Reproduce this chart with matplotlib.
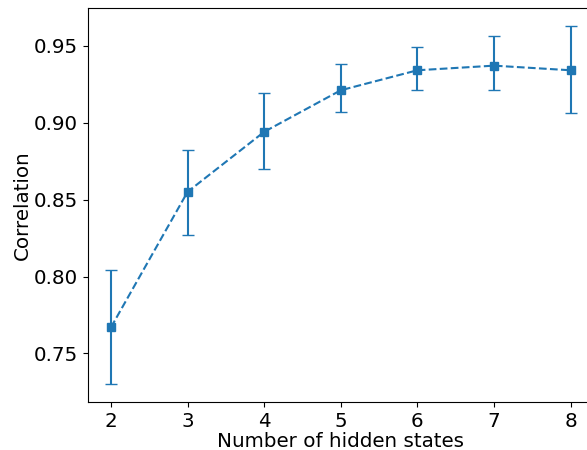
import matplotlib
matplotlib.use("Agg")
import matplotlib.pyplot as plt
import numpy as np

# hidden states vs correlation (mean with error bars)
n_states = [2, 3, 4, 5, 6, 7, 8]
corr_mean = [0.767, 0.855, 0.894, 0.921, 0.934, 0.937, 0.934]
corr_low = [0.730, 0.827, 0.870, 0.907, 0.921, 0.921, 0.906]
corr_high = [0.804, 0.882, 0.919, 0.938, 0.949, 0.956, 0.963]

mean = np.array(corr_mean)
yerr = [mean - np.array(corr_low), np.array(corr_high) - mean]

fig = plt.figure(figsize=(5.87, 4.5), dpi=100)
# right spine sits just outside the picture, like the reference crop
ax = fig.add_axes([0.1499, 0.1062, 0.8612, 0.8767])

ax.errorbar(n_states, corr_mean, yerr=yerr, fmt='s--', color='#1f77b4',
            capsize=4, markersize=6, linewidth=1.5, elinewidth=1.5)

ax.set_xlabel('Number of hidden states', fontsize=14.3, labelpad=1)
ax.set_ylabel('Correlation', fontsize=14.3, labelpad=1.5)
ax.tick_params(labelsize=14.3)

fig.savefig('out.png', dpi=100)
